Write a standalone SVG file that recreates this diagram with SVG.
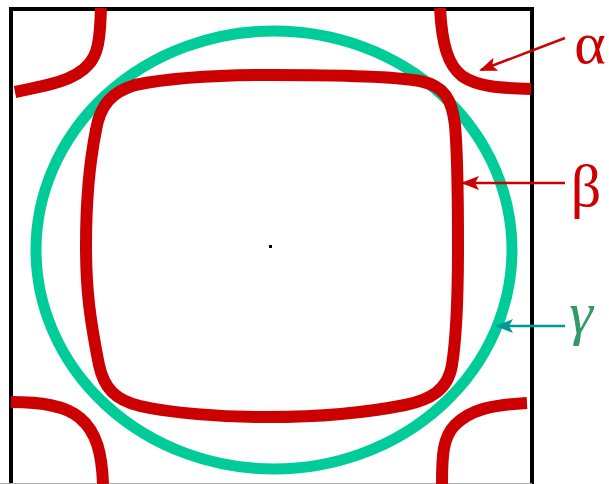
<svg xmlns="http://www.w3.org/2000/svg" width="609" height="484" viewBox="0 0 609 484">
<defs>
<style>
.frame{fill:none;stroke:#000;stroke-width:4}
.band{fill:none;stroke:#cc0000;stroke-width:12;stroke-linecap:butt}
.gam{fill:none;stroke:#00cc99;stroke-width:11}
.lbl{font-family:"Liberation Serif","Times New Roman",serif;font-size:60px;text-anchor:middle}
.red{stroke:#cc0000;stroke-width:2.5;fill:none}
.teal{stroke:#009999;stroke-width:2.5;fill:none}
</style>
<marker id="ahr" viewBox="0 0 18 14" refX="16" refY="7" markerWidth="18" markerHeight="14" markerUnits="userSpaceOnUse" orient="auto">
<path d="M18,7 L0,0 L4,7 L0,14 Z" fill="#cc0000"/>
</marker>
<marker id="aht" viewBox="0 0 18 14" refX="16" refY="7" markerWidth="18" markerHeight="14" markerUnits="userSpaceOnUse" orient="auto">
<path d="M18,7 L0,0 L4,7 L0,14 Z" fill="#009999"/>
</marker>
</defs>
<rect width="609" height="484" fill="#fff"/>
<g id="frame">
<path class="frame" d="M11,486 V9 H532 V486"/>
<line x1="0" y1="483.5" x2="532" y2="483.5" stroke="#aaa" stroke-width="1"/>
<rect x="269" y="245" width="3" height="3" fill="#000"/>
</g>
<g id="gamma">
<ellipse class="gam" cx="274" cy="250" rx="238" ry="219"/>
</g>
<g id="beta">
<path class="band" d="M272,75 C340,75 390,76 420,81 C445,86 452,100 455,125 C458,160 458,200 458,246 C458,300 456,340 452,365 C448,390 430,400 405,405 C360,414 310,417 268,417 C220,417 170,413 140,406 C115,400 104,388 99,365 C90,320 86,290 86,246 C86,200 90,160 96,130 C100,105 112,92 135,85 C175,77 220,75 272,75 Z"/>
</g>
<g id="alpha">
<path class="band" d="M101,8 C100,40 98,55 88,65 C75,80 50,85 15,92"/>
<path class="band" d="M440,8 C442,45 448,65 462,76 C478,87 500,88 531,89"/>
<path class="band" d="M11,402 C40,402 65,405 80,418 C97,432 102,455 103,484"/>
<path class="band" d="M527,403 C490,405 470,410 455,425 C443,437 442,455 442,484"/>
</g>
<g id="connectors">
<line class="red" x1="565" y1="38" x2="481" y2="70" marker-end="url(#ahr)"/>
<line class="red" x1="565" y1="183" x2="463" y2="183" marker-end="url(#ahr)"/>
<line class="teal" x1="565" y1="326" x2="497" y2="326" marker-end="url(#aht)"/>
</g>
<g id="labels">
<text class="lbl" x="590" y="63" fill="#cc0000" font-size="66">α</text>
<text class="lbl" x="586" y="206" fill="#cc0000">β</text>
<text class="lbl" x="581" y="333" fill="#339966" font-style="italic">γ</text>
</g>
</svg>
